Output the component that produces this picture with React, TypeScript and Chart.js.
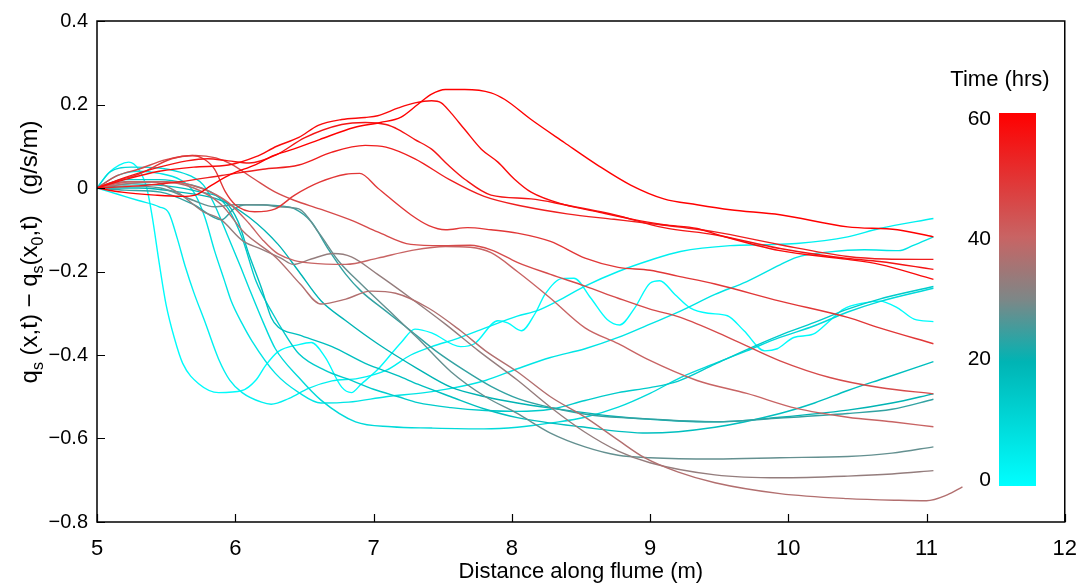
import React, { useEffect, useRef } from "react";
import { Chart, registerables } from "chart.js";

Chart.register(...registerables);

// ---- axis ticks ----
const xTicks = [5, 6, 7, 8, 9, 10, 11, 12];
const yTicks = [-0.8, -0.6, -0.4, -0.2, 0, 0.2, 0.4];
const colorbarTicks = [0, 20, 40, 60];

// ---- time (hrs) of each profile ----
const times = [1, 4, 7, 10, 14, 17, 20, 24, 28, 33, 37, 40, 45, 49, 54, 56, 58, 60];

// ---- profiles: [distance (m), qs(x,t) - qs(x0,t) (g/s/m)] ----
const line_t01 = [[5,0],[5.08,0.035],[5.16,0.055],[5.23,0.062],[5.3,0.045],[5.36,0.0],[5.4,-0.07],[5.45,-0.18],[5.5,-0.28],[5.56,-0.36],[5.62,-0.42],[5.74,-0.47],[5.88,-0.49],[6.05,-0.485],[6.15,-0.46],[6.22,-0.425],[6.31,-0.392],[6.46,-0.375],[6.55,-0.37],[6.65,-0.405],[6.77,-0.477],[6.84,-0.49],[6.91,-0.47],[7.03,-0.435],[7.2,-0.37],[7.3,-0.338],[7.42,-0.347],[7.63,-0.38],[7.73,-0.373],[7.9,-0.318],[7.97,-0.323],[8.07,-0.342],[8.17,-0.3],[8.24,-0.255],[8.36,-0.217],[8.45,-0.216],[8.57,-0.263],[8.69,-0.315],[8.78,-0.328],[8.89,-0.287],[9.0,-0.228],[9.07,-0.222],[9.18,-0.255],[9.29,-0.287],[9.42,-0.3],[9.56,-0.306],[9.68,-0.342],[9.83,-0.39],[9.92,-0.385],[10.04,-0.358],[10.18,-0.35],[10.3,-0.318],[10.4,-0.29],[10.55,-0.275],[10.66,-0.271],[10.79,-0.287],[10.91,-0.314],[11.05,-0.32]];
const line_t04 = [[5,0],[5.15,-0.015],[5.3,-0.03],[5.45,-0.045],[5.52,-0.06],[5.58,-0.12],[5.64,-0.19],[5.7,-0.25],[5.78,-0.32],[5.88,-0.41],[5.96,-0.46],[6.05,-0.49],[6.19,-0.513],[6.26,-0.518],[6.39,-0.504],[6.53,-0.48],[6.7,-0.462],[6.89,-0.456],[7.09,-0.437],[7.27,-0.4],[7.42,-0.38],[7.61,-0.36],[7.81,-0.335],[8.04,-0.307],[8.19,-0.293],[8.33,-0.271],[8.53,-0.235],[8.77,-0.2],[9.0,-0.173],[9.22,-0.152],[9.58,-0.138],[9.83,-0.136],[10.06,-0.133],[10.43,-0.117],[10.66,-0.097],[11.05,-0.073]];
const line_t07 = [[5,0],[5.15,0.03],[5.3,0.04],[5.45,0.035],[5.6,0.02],[5.7,-0.01],[5.78,-0.07],[5.85,-0.15],[5.92,-0.22],[5.97,-0.27],[6.05,-0.325],[6.12,-0.366],[6.29,-0.444],[6.46,-0.49],[6.62,-0.515],[6.82,-0.513],[7.09,-0.5],[7.37,-0.49],[7.56,-0.48],[7.81,-0.461],[8.04,-0.433],[8.28,-0.406],[8.53,-0.385],[8.77,-0.358],[9.0,-0.326],[9.22,-0.295],[9.47,-0.255],[9.7,-0.224],[9.94,-0.184],[10.06,-0.166],[10.3,-0.153],[10.55,-0.148],[10.8,-0.15],[10.9,-0.138],[11.05,-0.117]];
const line_t10 = [[5,0],[5.1,0.04],[5.25,0.05],[5.45,0.048],[5.6,0.038],[5.7,0.025],[5.77,0.007],[5.84,-0.033],[5.94,-0.11],[6.04,-0.19],[6.1,-0.24],[6.2,-0.32],[6.29,-0.385],[6.46,-0.454],[6.62,-0.508],[6.87,-0.56],[7.13,-0.572],[7.42,-0.575],[7.8,-0.577],[8.04,-0.573],[8.3,-0.562],[8.53,-0.549],[8.77,-0.525],[9.0,-0.492],[9.22,-0.454],[9.47,-0.42],[9.7,-0.39],[9.94,-0.358],[10.19,-0.33],[10.43,-0.297],[10.66,-0.272],[11.05,-0.24]];
const line_t14 = [[5,0],[5.2,0.02],[5.45,0.02],[5.65,0.01],[5.85,-0.015],[5.95,-0.05],[6.05,-0.12],[6.15,-0.223],[6.27,-0.3],[6.36,-0.35],[6.46,-0.397],[6.65,-0.437],[6.84,-0.461],[7.0,-0.482],[7.18,-0.5],[7.32,-0.514],[7.56,-0.526],[7.81,-0.533],[8.04,-0.535],[8.28,-0.53],[8.53,-0.509],[8.77,-0.49],[9.0,-0.478],[9.2,-0.463],[9.47,-0.422],[9.7,-0.387],[9.94,-0.353],[10.19,-0.322],[10.43,-0.29],[10.66,-0.266],[11.05,-0.236]];
const line_t17 = [[5,0],[5.25,0.01],[5.5,0.005],[5.75,-0.01],[5.92,-0.03],[6.02,-0.08],[6.1,-0.16],[6.19,-0.24],[6.26,-0.31],[6.31,-0.333],[6.46,-0.352],[6.7,-0.38],[6.94,-0.42],[7.18,-0.45],[7.32,-0.47],[7.56,-0.5],[7.81,-0.53],[8.04,-0.55],[8.5,-0.572],[8.98,-0.587],[9.47,-0.573],[9.94,-0.54],[10.19,-0.515],[10.43,-0.485],[10.7,-0.455],[11.05,-0.416]];
const line_t20 = [[5,0],[5.3,0.0],[5.6,-0.01],[5.9,-0.03],[6.1,-0.07],[6.31,-0.135],[6.46,-0.2],[6.62,-0.27],[6.8,-0.318],[7.03,-0.373],[7.32,-0.433],[7.56,-0.477],[7.81,-0.5],[8.04,-0.515],[8.28,-0.527],[8.77,-0.548],[9.2,-0.558],[9.47,-0.56],[9.94,-0.549],[10.43,-0.532],[10.75,-0.515],[11.05,-0.493]];
const line_t24 = [[5,0],[5.2,-0.005],[5.46,-0.01],[5.7,-0.04],[5.9,-0.076],[5.99,-0.05],[6.08,-0.04],[6.33,-0.043],[6.43,-0.05],[6.55,-0.081],[6.67,-0.145],[6.8,-0.207],[6.91,-0.247],[7.09,-0.295],[7.27,-0.342],[7.45,-0.39],[7.65,-0.435],[7.85,-0.475],[8.05,-0.505],[8.3,-0.527],[8.6,-0.545],[8.98,-0.553],[9.47,-0.56],[9.94,-0.551],[10.43,-0.54],[10.75,-0.53],[11.05,-0.506]];
const line_t28 = [[5,0],[5.2,0.005],[5.46,0.0],[5.7,-0.03],[5.85,-0.045],[6.0,-0.04],[6.2,-0.04],[6.31,-0.045],[6.46,-0.05],[6.6,-0.105],[6.75,-0.176],[6.91,-0.23],[7.1,-0.29],[7.32,-0.36],[7.56,-0.44],[7.81,-0.5],[8.04,-0.54],[8.28,-0.587],[8.53,-0.62],[8.77,-0.64],[9.0,-0.646],[9.47,-0.649],[9.94,-0.646],[10.43,-0.643],[10.75,-0.635],[11.05,-0.62]];
const line_t33 = [[5,0],[5.2,0.015],[5.4,0.015],[5.58,-0.01],[5.77,-0.057],[5.89,-0.074],[6.06,-0.128],[6.18,-0.145],[6.33,-0.168],[6.42,-0.183],[6.55,-0.17],[6.71,-0.157],[6.84,-0.165],[7.03,-0.207],[7.27,-0.264],[7.52,-0.326],[7.76,-0.39],[8.04,-0.46],[8.28,-0.525],[8.53,-0.585],[8.77,-0.63],[9.0,-0.658],[9.47,-0.687],[9.94,-0.694],[10.43,-0.69],[10.75,-0.685],[11.05,-0.677]];
const line_t37 = [[5,0],[5.2,0.01],[5.45,0.015],[5.7,0.0],[5.9,-0.04],[6.06,-0.105],[6.3,-0.168],[6.47,-0.23],[6.62,-0.278],[6.8,-0.266],[6.98,-0.247],[7.16,-0.252],[7.4,-0.288],[7.63,-0.342],[7.81,-0.39],[8.04,-0.44],[8.28,-0.5],[8.53,-0.549],[8.77,-0.604],[8.96,-0.646],[9.2,-0.68],[9.47,-0.706],[9.94,-0.732],[10.43,-0.744],[10.8,-0.748],[11.0,-0.749],[11.15,-0.735],[11.26,-0.716]];
const line_t40 = [[5,0],[5.25,0.015],[5.5,0.015],[5.75,0.0],[5.95,-0.035],[6.1,-0.085],[6.2,-0.125],[6.31,-0.158],[6.55,-0.18],[6.8,-0.183],[7.03,-0.168],[7.27,-0.15],[7.52,-0.14],[7.7,-0.142],[7.85,-0.155],[8.04,-0.2],[8.28,-0.264],[8.53,-0.335],[8.77,-0.373],[8.98,-0.41],[9.34,-0.461],[9.7,-0.492],[10.06,-0.528],[10.43,-0.549],[10.75,-0.56],[11.05,-0.572]];
const line_t45 = [[5,0],[5.15,0.03],[5.3,0.045],[5.5,0.068],[5.71,0.078],[5.86,0.072],[5.97,0.057],[6.14,0.021],[6.29,-0.01],[6.43,-0.03],[6.61,-0.05],[6.86,-0.08],[7.03,-0.105],[7.27,-0.135],[7.5,-0.138],[7.7,-0.137],[7.85,-0.148],[8.04,-0.178],[8.28,-0.207],[8.53,-0.235],[8.77,-0.264],[9.0,-0.29],[9.22,-0.31],[9.58,-0.36],[9.94,-0.414],[10.3,-0.454],[10.66,-0.478],[11.05,-0.493]];
const line_t49 = [[5,0],[5.15,0.018],[5.3,0.033],[5.54,0.07],[5.69,0.078],[5.77,0.07],[5.85,0.045],[5.93,-0.01],[6.0,-0.04],[6.14,-0.057],[6.29,-0.05],[6.43,-0.017],[6.61,0.014],[6.8,0.033],[6.9,0.035],[7.03,0.0],[7.27,-0.064],[7.4,-0.09],[7.52,-0.1],[7.68,-0.095],[7.85,-0.1],[8.04,-0.108],[8.28,-0.128],[8.53,-0.168],[8.77,-0.19],[9.0,-0.197],[9.2,-0.211],[9.47,-0.23],[9.94,-0.271],[10.43,-0.31],[10.66,-0.335],[11.05,-0.373]];
const line_t54 = [[5,0],[5.3,0.005],[5.6,0.015],[5.9,0.03],[6.2,0.045],[6.46,0.055],[6.7,0.086],[6.94,0.102],[7.09,0.098],[7.3,0.07],[7.55,0.02],[7.8,-0.02],[8.1,-0.045],[8.4,-0.062],[8.74,-0.075],[9.0,-0.085],[9.47,-0.105],[9.94,-0.136],[10.43,-0.164],[10.7,-0.17],[11.05,-0.171]];
const line_t56 = [[5,0],[5.2,0.025],[5.45,0.05],[5.65,0.065],[5.8,0.07],[5.95,0.065],[6.1,0.06],[6.3,0.08],[6.5,0.12],[6.77,0.152],[6.94,0.157],[7.09,0.152],[7.18,0.14],[7.3,0.116],[7.42,0.093],[7.54,0.055],[7.66,0.021],[7.85,-0.017],[8.14,-0.026],[8.38,-0.04],[8.74,-0.064],[9.1,-0.095],[9.47,-0.112],[9.94,-0.145],[10.43,-0.169],[10.66,-0.176],[11.05,-0.195]];
const line_t58 = [[5,0],[5.2,0.02],[5.45,0.04],[5.7,0.05],[5.95,0.055],[6.15,0.075],[6.3,0.1],[6.46,0.121],[6.6,0.15],[6.77,0.164],[6.94,0.169],[7.03,0.173],[7.18,0.192],[7.3,0.204],[7.42,0.209],[7.49,0.204],[7.56,0.18],[7.66,0.14],[7.78,0.093],[7.9,0.062],[8.02,0.021],[8.14,-0.01],[8.38,-0.04],[8.62,-0.057],[8.86,-0.074],[9.1,-0.088],[9.34,-0.097],[9.47,-0.11],[9.94,-0.15],[10.43,-0.171],[10.66,-0.183],[11.05,-0.219]];
const line_t60 = [[5,0],[5.18,-0.01],[5.42,-0.017],[5.61,-0.02],[5.71,-0.017],[5.83,0.007],[5.97,0.033],[6.14,0.055],[6.28,0.078],[6.42,0.093],[6.61,0.116],[6.86,0.145],[7.05,0.157],[7.2,0.17],[7.32,0.2],[7.42,0.225],[7.52,0.236],[7.66,0.236],[7.85,0.228],[7.95,0.212],[8.14,0.164],[8.38,0.109],[8.62,0.055],[8.86,0.007],[9.1,-0.026],[9.34,-0.04],[9.58,-0.052],[9.94,-0.064],[10.43,-0.093],[10.79,-0.1],[11.05,-0.117]];

const profiles = [line_t01, line_t04, line_t07, line_t10, line_t14, line_t17, line_t20, line_t24, line_t28, line_t33, line_t37, line_t40, line_t45, line_t49, line_t54, line_t56, line_t58, line_t60];

// colormap (time -> colour)
const cmapStops: [number, number[]][] = [
  [0, [0, 255, 255]],
  [20, [0, 180, 180]],
  [30, [125, 135, 135]],
  [40, [200, 100, 100]],
  [60, [255, 0, 0]],
];
function cmap(t: number): string {
  for (let i = 0; i < cmapStops.length - 1; i++) {
    const [t0, c0] = cmapStops[i];
    const [t1, c1] = cmapStops[i + 1];
    if (t <= t1 || i === cmapStops.length - 2) {
      const f = Math.max(0, Math.min(1, (t - t0) / (t1 - t0)));
      const c = c0.map((v, k) => Math.round(v + (c1[k] - v) * f));
      return `rgb(${c[0]},${c[1]},${c[2]})`;
    }
  }
  return "rgb(255,0,0)";
}

const FONT = "'Liberation Sans', Arial, Helvetica, sans-serif";

function fmt(v: number): string {
  const r = Math.round(v * 10) / 10;
  if (r === 0) return "0";
  return r < 0 ? "\u2212" + String(-r) : String(r);
}

const decorPlugin = {
  id: "decor",
  afterDatasetsDraw(chart: any) {
    const { ctx, chartArea } = chart;
    ctx.save();
    ctx.fillStyle = "#ffffff";
    ctx.fillRect(966, chartArea.top + 1, chartArea.right - 3 - 966, chartArea.bottom - chartArea.top - 3);
    ctx.restore();
  },
  afterDraw(chart: any) {
    const { ctx, chartArea, scales } = chart;
    const { left, top, right, bottom } = chartArea;
    ctx.save();
    // colorbar
    const cbX0 = 999, cbX1 = 1036, cbTop = 113, cbBot = 486;
    const grad = ctx.createLinearGradient(0, cbBot, 0, cbTop);
    cmapStops.forEach(([t, c]) => grad.addColorStop(t / 60, `rgb(${c[0]},${c[1]},${c[2]})`));
    ctx.fillStyle = grad;
    ctx.fillRect(cbX0, cbTop, cbX1 - cbX0, cbBot - cbTop);
    ctx.fillStyle = "#000";
    ctx.font = `21px ${FONT}`;
    ctx.textAlign = "right";
    ctx.textBaseline = "middle";
    colorbarTicks.forEach((t) => {
      const yy = 480 - (t / 60) * 361;
      ctx.fillText(String(t), 991, yy);
    });
    ctx.textAlign = "center";
    ctx.font = `22px ${FONT}`;
    ctx.fillText("Time (hrs)", 1000, 80);

    // axes box
    ctx.strokeStyle = "#000";
    ctx.lineWidth = 1.5;
    ctx.strokeRect(left, top, right - left, bottom - top);
    // inward ticks
    ctx.lineWidth = 1.2;
    ctx.beginPath();
    xTicks.forEach((v) => {
      const px = Math.round(scales.x.getPixelForValue(v)) + 0.5;
      ctx.moveTo(px, bottom);
      ctx.lineTo(px, bottom - 8);
    });
    yTicks.forEach((v) => {
      const py = Math.round(scales.y.getPixelForValue(v)) + 0.5;
      ctx.moveTo(left, py);
      ctx.lineTo(left + 8, py);
    });
    ctx.stroke();

    // y-axis title with subscripts
    const segs = [
      { t: "q", sub: false },
      { t: "s", sub: true },
      { t: " (x,t) \u2212 q", sub: false },
      { t: "s", sub: true },
      { t: "(x", sub: false },
      { t: "0", sub: true },
      { t: ",t)   (g/s/m)", sub: false },
    ];
    const mainF = `24px ${FONT}`;
    const subF = `16px ${FONT}`;
    let total = 0;
    segs.forEach((s) => {
      ctx.font = s.sub ? subF : mainF;
      total += ctx.measureText(s.t).width;
    });
    ctx.translate(37, 252);
    ctx.rotate(-Math.PI / 2);
    ctx.textAlign = "left";
    ctx.textBaseline = "alphabetic";
    let cx = -total / 2;
    segs.forEach((s) => {
      ctx.font = s.sub ? subF : mainF;
      ctx.fillText(s.t, cx, s.sub ? 6 : 0);
      cx += ctx.measureText(s.t).width;
    });
    ctx.restore();
  },
};

export default function App() {
  const ref = useRef<HTMLCanvasElement | null>(null);
  useEffect(() => {
    if (!ref.current) return;
    const n = profiles.length;
    const datasets = profiles.map((pts, i) => ({
      label: `${times[i]} hrs`,
      data: pts.map(([x, y]) => ({ x, y })),
      borderColor: cmap(times[i]),
      borderWidth: 1.4,
      pointRadius: 0,
      fill: false,
      cubicInterpolationMode: "monotone" as const,
      order: n - i,
    }));
    const chart = new Chart(ref.current, {
      type: "line",
      data: { datasets },
      options: {
        responsive: false,
        animation: false,
        devicePixelRatio: 1,
        layout: { padding: { left: 0, top: 17, right: 23, bottom: 0 } },
        plugins: { legend: { display: false }, tooltip: { enabled: false } },
        scales: {
          x: {
            type: "linear",
            min: 5,
            max: 12,
            afterBuildTicks: (s: any) => {
              s.ticks = xTicks.map((v) => ({ value: v }));
            },
            afterFit: (s: any) => {
              s.height = 63;
            },
            grid: { display: false, drawTicks: false },
            border: { display: false },
            ticks: {
              color: "#000",
              padding: 14,
              font: { family: FONT, size: 22 },
              callback: (v: any) => String(v),
            },
            title: {
              display: true,
              text: "Distance along flume (m)",
              color: "#000",
              font: { family: FONT, size: 22 },
              padding: { top: 0, bottom: 0 },
            },
          },
          y: {
            type: "linear",
            min: -0.8,
            max: 0.4,
            afterBuildTicks: (s: any) => {
              s.ticks = yTicks.map((v) => ({ value: v }));
            },
            afterFit: (s: any) => {
              s.width = 97;
            },
            grid: { display: false, drawTicks: false },
            border: { display: false },
            ticks: {
              color: "#000",
              padding: 9,
              font: { family: FONT, size: 20 },
              callback: (v: any) => fmt(Number(v)),
            },
          },
        },
      },
      plugins: [decorPlugin],
    });
    return () => chart.destroy();
  }, []);
  return (
    <div style={{ position: "absolute", left: 0, top: 0, width: 1091, height: 585, background: "#fff" }}>
      <canvas ref={ref} width={1091} height={585} style={{ width: 1091, height: 585, display: "block" }} />
    </div>
  );
}
